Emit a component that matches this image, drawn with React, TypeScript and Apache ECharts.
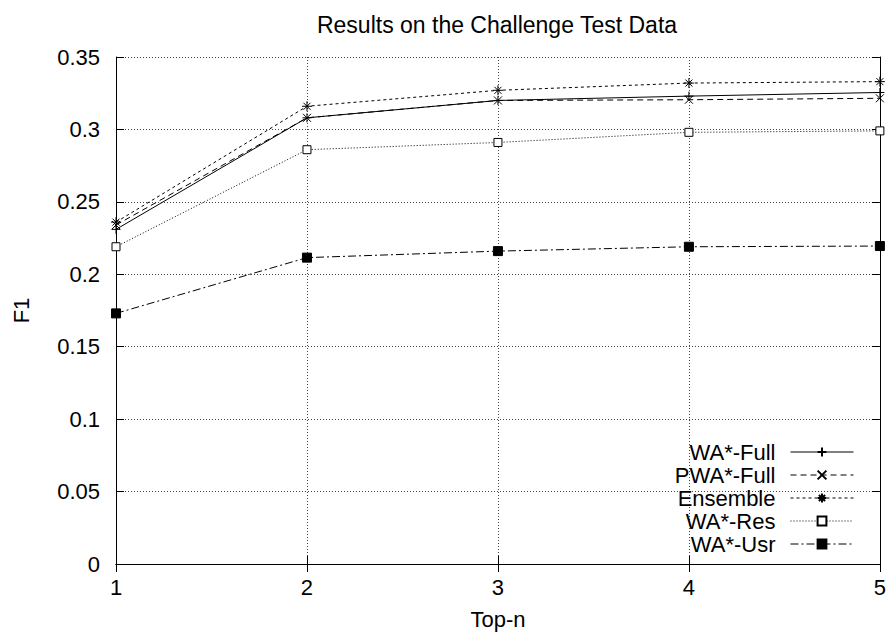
import React, { useEffect, useRef } from "react";
import * as echarts from "echarts";

const topN = [1, 2, 3, 4, 5];
const waFull = [0.231, 0.308, 0.32, 0.323, 0.3255];
const pwaFull = [0.234, 0.308, 0.32, 0.3205, 0.3215];
const ensemble = [0.236, 0.316, 0.327, 0.332, 0.333];
const waRes = [0.219, 0.286, 0.291, 0.298, 0.299];
const waUsr = [0.173, 0.2115, 0.216, 0.219, 0.2195];

const seriesNames = ["WA*-Full", "PWA*-Full", "Ensemble", "WA*-Res", "WA*-Usr"];
const seriesValues = [waFull, pwaFull, ensemble, waRes, waUsr];

const FONT = "'Liberation Sans', Arial, Helvetica, sans-serif";

const PLUS = "path://M0,5L10,5M5,0L5,10";
const CROSS = "path://M0,0L10,10M10,0L0,10";
const STAR = "path://M0,5L10,5M5,0L5,10M1.5,1.5L8.5,8.5M8.5,1.5L1.5,8.5";

const styles = [
  { dash: "solid" as any, symbol: PLUS, size: 9, fill: "#000" },
  { dash: [6, 4], symbol: CROSS, size: 8, fill: "#000" },
  { dash: [3, 3], symbol: STAR, size: 10, fill: "#000" },
  { dash: [1, 2], symbol: "rect", size: 8, fill: "#fff" },
  { dash: [8, 3, 2, 3], symbol: "rect", size: 9, fill: "#000" },
];

export default function App() {
  const ref = useRef<HTMLDivElement>(null);
  useEffect(() => {
    if (!ref.current) return;
    const chart = echarts.init(ref.current, undefined, { renderer: "svg" });
    const axisLine = { show: true, lineStyle: { color: "#000", width: 1 } };
    const tick = { show: true, inside: true, length: 8, lineStyle: { color: "#000" } };
    const fmt = (v: number) => String(Number(v.toFixed(2)));
    const grid = { show: true, lineStyle: { color: "#444", type: [1, 2], width: 1 } };
    chart.setOption({
      animation: false,
      backgroundColor: "#fff",
      textStyle: { fontFamily: FONT },
      title: {
        text: "Results on the Challenge Test Data",
        left: 492,
        top: 8,
        textAlign: "center",
        textStyle: { fontSize: 23, fontWeight: "normal", color: "#000", fontFamily: FONT },
      },
      grid: { left: 116, right: 7, top: 57, bottom: 70, containLabel: false },
      legend: {
        orient: "vertical",
        align: "right",
        right: 35,
        top: 440.5,
        padding: 0,
        itemWidth: 63,
        itemHeight: 11,
        itemGap: 0,
        selectedMode: false,
        data: seriesNames,
        lineStyle: { width: 1 },
        textStyle: { fontSize: 22, lineHeight: 23, color: "#000", fontFamily: FONT, padding: [0, 10, 0, 0] },
      },
      xAxis: [
        {
          type: "value",
          min: 1,
          max: 5,
          interval: 1,
          position: "bottom",
          name: "Top-n",
          nameLocation: "middle",
          nameGap: 44,
          nameTextStyle: { fontSize: 22, color: "#000", fontFamily: FONT },
          axisLine,
          axisTick: tick,
          axisLabel: { fontSize: 22, color: "#000", margin: 12, fontFamily: FONT },
          splitLine: grid,
        },
        {
          type: "value",
          min: 1,
          max: 5,
          interval: 1,
          position: "top",
          axisLine,
          axisTick: tick,
          axisLabel: { show: false },
          splitLine: { show: false },
        },
      ],
      yAxis: [
        {
          type: "value",
          min: 0,
          max: 0.35,
          interval: 0.05,
          position: "left",
          name: "F1",
          nameLocation: "middle",
          nameGap: 84,
          nameTextStyle: { fontSize: 22, color: "#000", fontFamily: FONT },
          axisLine,
          axisTick: tick,
          axisLabel: { fontSize: 22, color: "#000", margin: 16, formatter: fmt, fontFamily: FONT },
          splitLine: grid,
        },
        {
          type: "value",
          min: 0,
          max: 0.35,
          interval: 0.05,
          position: "right",
          axisLine,
          axisTick: tick,
          axisLabel: { show: false },
          splitLine: { show: false },
        },
      ],
      series: seriesNames.map((name, i) => ({
        name,
        type: "line",
        xAxisIndex: 0,
        yAxisIndex: 0,
        data: topN.map((x, j) => [x, seriesValues[i][j]]),
        symbol: styles[i].symbol,
        symbolSize: styles[i].size,
        showAllSymbol: true,
        color: "#000",
        lineStyle: { color: "#000", width: 1, type: styles[i].dash },
        itemStyle: { color: styles[i].fill, borderColor: "#000", borderWidth: 1 },
        emphasis: { disabled: true },
        z: 10 - i,
      })),
    });
    return () => chart.dispose();
  }, []);
  return (
    <div
      ref={ref}
      style={{ position: "fixed", left: 0, top: 0, width: 889, height: 635, background: "#fff" }}
    />
  );
}
